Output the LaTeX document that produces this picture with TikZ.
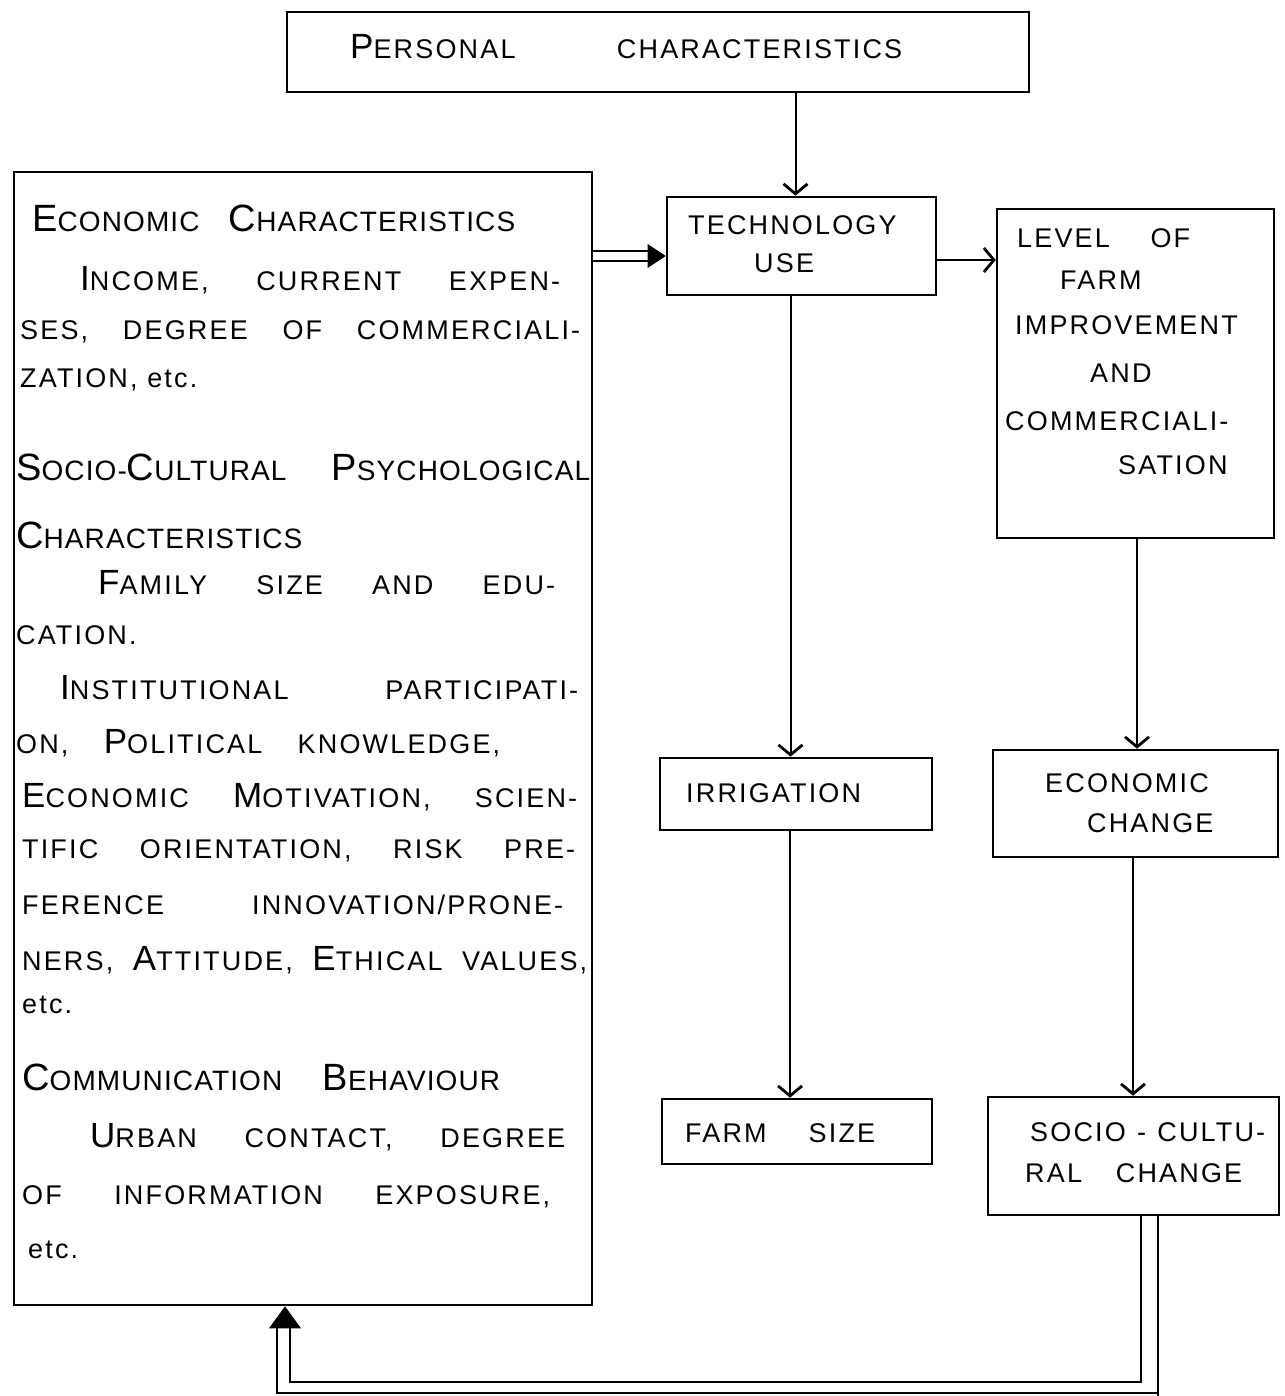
\documentclass[tikz,border=0pt]{standalone}
\usepackage{fontspec}
\usetikzlibrary{arrows.meta}
\newfontfamily\dgfam{Liberation Sans}[LetterSpace=8]
\newfontfamily\dghfam{Liberation Sans}[LetterSpace=4]
\newcommand\dgbody{\dgfam\fontsize{27}{30}\selectfont}
\newcommand\dghead{\dghfam\fontsize{28}{32}\selectfont}
\newcommand\bi[1]{{\fontsize{35}{36}\selectfont #1}}
\newcommand\hi[1]{{\fontsize{38}{40}\selectfont #1}}
\newcommand\jl[2]{\makebox[#1pt][s]{#2}}
\tikzset{
  box/.style={draw, line width=2.6pt, inner sep=0pt},
  ln/.style={line width=2pt},
  varr/.style={line width=2pt, -{Straight Barb[length=10pt,width=24pt,line width=2.8pt]}},
  txt/.style={anchor=west, inner sep=0pt, font=\dgbody},
  hd/.style={anchor=west, inner sep=0pt, font=\dghead},
}
\begin{document}
\begin{tikzpicture}[x=1pt,y=-1pt]
\useasboundingbox (0,0) rectangle (1284,1396);
% boxes
\node[box, minimum width=742pt, minimum height=80pt] (pc) at (658,52) {};
\node[box, minimum width=578pt, minimum height=1133pt] (left) at (303,738.5) {};
\node[box, minimum width=269pt, minimum height=98pt] (tech) at (801.5,246) {};
\node[box, minimum width=277pt, minimum height=329pt] (level) at (1135.5,373.5) {};
\node[box, minimum width=272pt, minimum height=72pt] (irr) at (796,794) {};
\node[box, minimum width=285pt, minimum height=107pt] (econ) at (1135.5,803.5) {};
\node[box, minimum width=270pt, minimum height=65pt] (farm) at (797,1131.5) {};
\node[box, minimum width=291pt, minimum height=118pt] (socio) at (1133.5,1156) {};
% box texts
\node[txt] (pct) at (350,47) {\jl{552}{\bi{P}ERSONAL CHARACTERISTICS}};
\node[txt] (tt1) at (688,225) {\jl{217}{TECHNOLOGY}};
\node[txt] (tt2) at (754,263) {USE};
\node[txt] (lv1) at (1017,238) {\jl{173}{LEVEL OF}};
\node[txt] (lv2) at (1060,280) {FARM};
\node[txt] (lv3) at (1015,325) {\jl{235}{IMPROVEMENT}};
\node[txt] (lv4) at (1090,373) {AND};
\node[txt] (lv5) at (1005,421) {\jl{245}{COMMERCIALI-}};
\node[txt] (lv6) at (1118,465) {SATION};
\node[txt] (irt) at (686,793) {\jl{184}{IRRIGATION}};
\node[txt] (ec1) at (1045,783) {\jl{175}{ECONOMIC}};
\node[txt] (ec2) at (1087,823) {CHANGE};
\node[txt] (fst) at (685,1133) {\jl{190}{FARM SIZE}};
\node[txt] (sc1) at (1030,1132) {\jl{235}{SOCIO - CULTU-}};
\node[txt] (sc2) at (1025,1173) {\jl{217}{RAL CHANGE}};
% left box text
\node[hd]  (l1)  at (32,218)  {\jl{483}{\hi{E}CONOMIC \hi{C}HARACTERISTICS}};
\node[txt] (l2)  at (80,280)  {\jl{480}{\bi{I}NCOME, CURRENT EXPEN-}};
\node[txt] (l3)  at (20,332)  {\jl{560}{SES, DEGREE OF COMMERCIALI-}};
\node[txt] (l4)  at (20,380)  {ZATION, etc.};
\node[hd]  (l5)  at (16,467)  {\jl{574}{\hi{S}OCIO-\hi{C}ULTURAL \hi{P}SYCHOLOGICAL}};
\node[hd]  (l6)  at (16,535)  {\hi{C}HARACTERISTICS};
\node[txt] (l7)  at (98,583)  {\jl{457}{\bi{F}AMILY SIZE AND EDU-}};
\node[txt] (l8)  at (16,635)  {CATION.};
\node[txt] (l9)  at (60,688)  {\jl{518}{\bi{I}NSTITUTIONAL PARTICIPATI-}};
\node[txt] (l10) at (16,743)  {\jl{484}{ON, \bi{P}OLITICAL KNOWLEDGE,}};
\node[txt] (l11) at (22,797)  {\jl{555}{\bi{E}CONOMIC \bi{M}OTIVATION, SCIEN-}};
\node[txt] (l12) at (22,851)  {\jl{553}{TIFIC ORIENTATION, RISK PRE-}};
\node[txt] (l13) at (22,905)  {\jl{541}{FERENCE INNOVATION/PRONE-}};
\node[txt] (l14) at (22,960)  {\jl{565}{NERS, \bi{A}TTITUDE, \bi{E}THICAL VALUES,}};
\node[txt] (l15) at (22,1005) {etc.};
\node[hd]  (l16) at (22,1077) {\jl{478}{\hi{C}OMMUNICATION \hi{B}EHAVIOUR}};
\node[txt] (l17) at (90,1137) {\jl{475}{\bi{U}RBAN CONTACT, DEGREE}};
\node[txt] (l18) at (22,1197) {\jl{528}{OF INFORMATION EXPOSURE,}};
\node[txt] (l19) at (28,1250) {etc.};
% connectors
\draw[varr] ([xshift=-6pt]tech.north |- pc.south) -- ([xshift=-6pt]tech.north);
\draw[ln] ([yshift=-5pt]left.east |- tech.west) -- ([yshift=-5pt,xshift=-14pt]tech.west);
\draw[ln] ([yshift=-15pt]left.east |- tech.west) -- ([yshift=-15pt,xshift=-14pt]tech.west);
\fill ([yshift=-10pt]tech.west) -- ++(-18,12) -- ++(0,-24) -- cycle;
\draw[varr] ([yshift=-14pt]tech.east) -- ([yshift=-14pt]tech.east -| level.west);
\draw[varr] ([xshift=-11pt]tech.south) -- ([xshift=-11pt]tech.south |- irr.north);
\draw[varr] ([xshift=-6pt]irr.south) -- ([xshift=-6pt]irr.south |- farm.north);
\draw[varr] ([xshift=1.5pt]level.south) -- ([xshift=1.5pt]level.south |- econ.north);
\draw[varr] ([xshift=-2.5pt]econ.south) -- ([xshift=-2.5pt]econ.south |- socio.north);
% feedback
\coordinate (fbtip) at ([xshift=-18pt]left.south);
\draw[ln] ([xshift=7.5pt]socio.south) |- ([xshift=5pt]fbtip |- 0,1382) -- ([xshift=5pt]fbtip |- 0,1322);
\draw[ln] ([xshift=24.5pt]socio.south) -- ([xshift=24.5pt]socio.south |- 0,1396);
\draw[ln] ([xshift=24.5pt]socio.south |- 0,1393) -| ([xshift=-8pt]fbtip |- 0,1322);
\fill (fbtip) -- ++(-16,22) -- ++(32,0) -- cycle;
\end{tikzpicture}
\end{document}
